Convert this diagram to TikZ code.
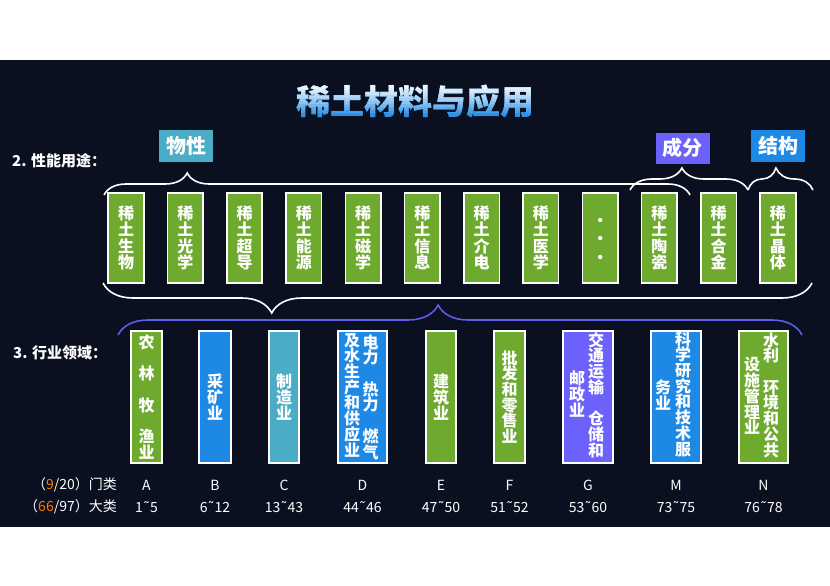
\documentclass[tikz,border=0pt]{standalone}
\usepackage{fontspec}
\setmainfont{Noto Sans CJK SC}
\newfontfamily\dejavu{DejaVu Sans}
\newcommand{\rangetilde}{{\dejavu ˜}}
\usetikzlibrary{decorations.pathreplacing}
\definecolor{bgnavy}{RGB}{10,16,32}
\definecolor{rgreen}{RGB}{110,170,46}
\definecolor{rblue}{RGB}{30,136,229}
\definecolor{rteal}{RGB}{75,172,198}
\definecolor{rpurple}{RGB}{106,98,250}
\definecolor{bracepurple}{RGB}{92,92,228}
\definecolor{ttlblue}{RGB}{45,145,232}
\definecolor{numorange}{RGB}{255,122,0}

\begin{document}
\begin{tikzpicture}[x=1pt,y=-1pt,
  box/.style={draw=white, line width=1.6pt, inner sep=0pt, align=center, text=white},
  topbox/.style={box, fill=rgreen, minimum width=35.5pt, minimum height=89.5pt,
    font=\bfseries\fontsize{16}{16.5}\selectfont},
  lowbox/.style={box, minimum width=#1, minimum height=132.5pt,
    font=\bfseries\fontsize{16}{15.7}\selectfont},
  col/.style={align=center, text=white, inner sep=0pt,
    font=\bfseries\fontsize{16}{15.7}\selectfont},
  tag/.style={fill=#1, text=white, minimum width=54pt, minimum height=32pt,
    inner sep=0pt, font=\bfseries\fontsize{20}{20}\selectfont},
  ttl/.style={inner sep=0pt, font=\bfseries\fontsize{34}{34}\selectfont},
  brc/.style={decorate, draw=white, line width=1.6pt,
    decoration={brace, amplitude=22pt, aspect=#1}},
  lbl/.style={anchor=west, text=white, inner sep=0pt,
    font=\bfseries\fontsize{15}{15}\selectfont},
  code/.style={text=white, inner sep=0pt, font=\fontsize{14}{14}\selectfont},
]
\fill[white] (0,0) rectangle (830,586);
\fill[bgnavy] (0,60) rectangle (830,527);
\useasboundingbox (0,0) rectangle (830,586);

% title, light at the top and blue below
\node[ttl, text=ttlblue] (title) at (415,102) {稀土材料与应用};
\foreach \k in {0,...,11} {
  \pgfmathtruncatemacro{\pc}{100*(\k/11)^1.3}
  \begin{scope}
    \clip (0,{80+3*\k}) rectangle (830,{83+3*\k});
    \node[ttl, text=ttlblue!\pc!white] (title\k) at (415,102) {稀土材料与应用};
  \end{scope}
}

% 2. properties
\node[lbl] (use) at (12,161) {2. 性能用途：};
\node[tag=rteal] (wuxing) at (186,146) {物性};
\node[tag=rpurple, minimum height=31pt] (chengfen) at (682.5,148) {成分};
\node[tag=rblue] (jiegou) at (778,146) {结构};

\foreach \txt [count=\i] in {稀\\土\\生\\物, 稀\\土\\光\\学, 稀\\土\\超\\导,
    稀\\土\\能\\源, 稀\\土\\磁\\学, 稀\\土\\信\\息, 稀\\土\\介\\电,
    稀\\土\\医\\学, {}, 稀\\土\\陶\\瓷, 稀\\土\\合\\金, 稀\\土\\晶\\体} {
  \node[topbox] (t\i) at ({126+(\i-1)*59.27},238) {\txt};
}
\foreach \s in {18,0,-19}
  \fill[white] ([yshift=\s pt]t9.center) circle (2.2pt);

\coordinate (b1a) at (104,195);
\coordinate (b1b) at (690,195);
\coordinate (b2a) at (630,190);
\coordinate (b2b) at (748,190);
\coordinate (b3b) at (813,190);
\draw[brc=0.142] (b1a) -- (b1b);
\draw[brc=0.44] (b2a) -- (b2b);
\draw[brc=0.43] (b2b) -- (b3b);

\coordinate (b4a) at (103,283);
\coordinate (b4b) at (812,283);
\draw[brc=0.238, decoration={mirror, amplitude=30pt}] (b4a) -- (b4b);
\coordinate (b5a) at (118,335);
\coordinate (b5b) at (802,335);
\draw[brc=0.468, draw=bracepurple, decoration={amplitude=30pt}] (b5a) -- (b5b);

% 3. industries
\node[lbl] (ind) at (13,353) {3. 行业领域：};
\node[lowbox=31.5pt, fill=rgreen] (A) at (146.5,397)
  {农\\\mbox{}\\林\\\mbox{}\\牧\\\mbox{}\\渔\\业};
\node[lowbox=32.5pt, fill=rblue] (B) at (215,397) {采\\矿\\业};
\node[lowbox=30.5pt, fill=rteal] (C) at (284,397) {制\\造\\业};
\node[lowbox=49.5pt, fill=rblue] (D) at (362.5,397) {};
\node[col] (D-r) at (370.5,397) {电\\力\\\mbox{}\\热\\力\\\mbox{}\\燃\\气};
\node[col] (D-l) at (352,395) {及\\水\\生\\产\\和\\供\\应\\业};
\node[lowbox=30.5pt, fill=rgreen] (E) at (441,397) {建\\筑\\业};
\node[lowbox=31.5pt, fill=rgreen] (F) at (509.5,397) {批\\发\\和\\零\\售\\业};
\node[lowbox=50.5pt, fill=rpurple] (G) at (588,397) {};
\node[col] (G-r) at (596,395) {交\\通\\运\\输\\\mbox{}\\仓\\储\\和};
\node[col] (G-l) at (577,394) {邮\\政\\业};
\node[lowbox=50.5pt, fill=rblue] (M) at (676,397) {};
\node[col] (M-r) at (683,394) {科\\学\\研\\究\\和\\技\\术\\服};
\node[col] (M-l) at (663,395) {务\\业};
\node[lowbox=49.5pt, fill=rgreen] (N) at (763.5,397) {};
\node[col] (N-r) at (771,395) {水\\利\\\mbox{}\\环\\境\\和\\公\\共};
\node[col] (N-l) at (752,396) {设\\施\\管\\理\\业};

% codes
\node[code, anchor=east] (menlei) at (117,485) {（\textcolor{numorange}{9}/20）门类};
\node[code, anchor=east] (dalei) at (117,507) {（\textcolor{numorange}{66}/97）大类};
\foreach \b/\r in {A/1\rangetilde{}5, B/6\rangetilde{}12, C/13\rangetilde{}43,
    D/44\rangetilde{}46, E/47\rangetilde{}50, F/51\rangetilde{}52,
    G/53\rangetilde{}60, M/73\rangetilde{}75, N/76\rangetilde{}78} {
  \node[code] (g-\b) at (\b |- menlei) {\b};
  \node[code] (r-\b) at (\b |- dalei) {\r};
}
\end{tikzpicture}
\end{document}
